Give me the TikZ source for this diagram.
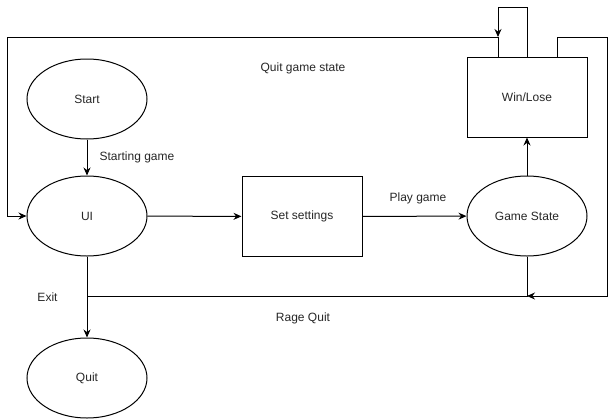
\documentclass[tikz,border=0pt]{standalone}
\usepackage{fontspec}
\setmainfont{Liberation Sans}
\usetikzlibrary{shapes.geometric,arrows.meta}
\begin{document}
\begin{tikzpicture}[x=1pt,y=-1pt,
  every node/.style={font=\fontsize{12}{14}\selectfont, text=black!85},
  stateell/.style={draw, ellipse, line width=1pt, minimum width=120pt, minimum height=80pt, inner sep=0pt},
  statebox/.style={draw, rectangle, line width=1pt, minimum width=120pt, minimum height=80pt, inner sep=0pt},
  conn/.style={line width=1pt},
  arr/.style={line width=1pt, -{Stealth[length=8pt,width=7pt]}},
  lbl/.style={inner sep=1pt}]
\useasboundingbox (0,0) rectangle (616,418);
\node[stateell] (start) at (87,99) {Start};
\node[stateell] (ui) at (87,216) {UI};
\node[stateell] (quit) at (87,378) {Quit};
\node[statebox] (set) at (302,216.5) {Set settings};
\node[stateell] (game) at (527,216) {Game State};
\node[statebox] (win) at (527,97) {Win/Lose};
\coordinate (jA) at (498,37);
\coordinate (jR) at (527,296);
% straight edges
\draw[arr] (start) -- (ui);
\draw[arr] (ui) -- (set);
\draw[arr] (set) -- (game);
\draw[arr] (game) -- (win);
\draw[arr] (ui) -- (quit);
% quit game state edge
\draw[arr] (win.north -| jA) -- (jA) -- (7,37) -- (7,216) -- (ui.west);
% self loop
\draw[arr] (win.north) -- (527,7) -- (498,7) -- (jA);
% right loop
\draw[arr] (557,57) -- (557,37) -- (607,37) -- (607,296) -- (jR);
% rage quit
\draw[conn] (game.south) -- (jR) -- (87,296);
% labels
\node[lbl] (l1) at (137,157) {Starting game};
\node[lbl] (l2) at (418,198) {Play game};
\node[lbl] (l3) at (303,68) {Quit game state};
\node[lbl] (l4) at (303,318) {Rage Quit};
\node[lbl] (l5) at (47.5,297) {Exit};
\end{tikzpicture}
\end{document}
